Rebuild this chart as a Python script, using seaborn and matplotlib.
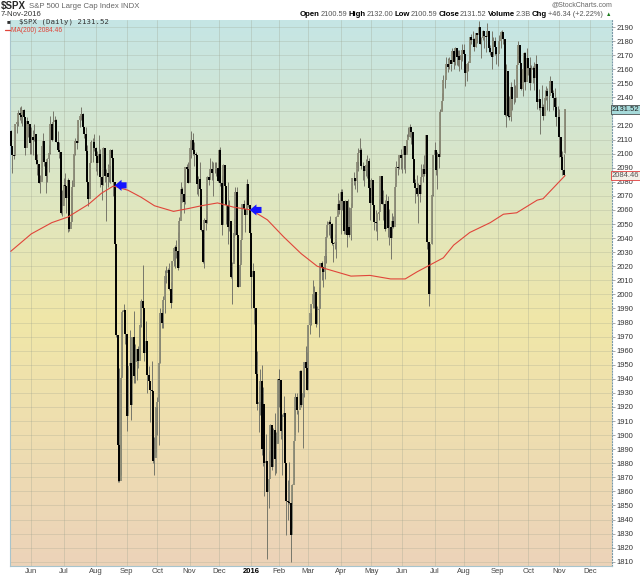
import numpy as np
import pandas as pd
import matplotlib
matplotlib.use('Agg')
import matplotlib.pyplot as plt
import seaborn as sns

# $SPX daily, 11-May-2015 .. 7-Nov-2016 (one value per trading day)
close = [
    # May 2015
    2105.33, 2099.12, 2098.48, 2121.10, 2122.73, 2129.20, 2127.83, 2125.85, 2130.82, 2126.06,
    2104.20, 2123.48, 2120.79, 2107.39,
    # Jun 2015
    2111.73, 2109.60, 2114.07, 2095.84, 2092.83, 2079.28, 2080.15, 2105.20, 2108.86, 2094.11,
    2084.43, 2096.29, 2100.44, 2121.24, 2109.99, 2122.85, 2124.20, 2108.58, 2102.31, 2101.49,
    2057.64, 2063.11,
    # Jul 2015
    2077.42, 2076.78, 2068.76, 2081.34, 2046.68, 2051.31, 2076.62, 2099.60, 2108.95, 2107.40,
    2124.29, 2126.64, 2128.28, 2119.21, 2114.15, 2102.15, 2079.65, 2067.64, 2093.25, 2108.57,
    2108.63, 2103.84,
    # Aug 2015
    2098.04, 2093.32, 2099.84, 2083.56, 2077.57, 2104.18, 2084.07, 2086.05, 2083.39, 2091.54,
    2102.44, 2096.92, 2079.61, 2035.73, 1970.89, 1893.21, 1867.61, 1940.51, 1987.66, 1988.87,
    1972.18,
    # Sep 2015
    1913.85, 1948.86, 1951.13, 1921.22, 1969.41, 1942.04, 1952.29, 1961.05, 1953.03, 1978.09,
    1995.31, 1990.20, 1958.03, 1966.97, 1942.74, 1938.76, 1932.24, 1931.34, 1881.77, 1884.09,
    1920.03,
    # Oct 2015
    1923.82, 1951.36, 1987.05, 1979.92, 1995.83, 2013.43, 2014.89, 2017.46, 2003.69, 1994.24,
    2023.86, 2033.11, 2033.66, 2030.77, 2018.94, 2052.51, 2075.15, 2071.18, 2065.89, 2090.35,
    2089.41, 2079.36,
    # Nov 2015
    2104.05, 2109.79, 2102.31, 2099.93, 2099.20, 2078.58, 2081.72, 2075.00, 2045.97, 2023.04,
    2053.19, 2050.44, 2083.58, 2081.24, 2089.17, 2086.59, 2089.14, 2088.87, 2090.11, 2080.41,
    # Dec 2015
    2102.63, 2079.51, 2049.62, 2091.69, 2077.07, 2063.59, 2047.62, 2052.23, 2012.37, 2021.94,
    2043.41, 2073.07, 2041.89, 2005.55, 2021.15, 2038.97, 2064.29, 2060.99, 2056.50, 2078.36,
    2063.36, 2043.94,
    # Jan 2016
    2012.66, 2016.71, 1990.26, 1943.09, 1922.03, 1923.67, 1938.68, 1890.28, 1921.84, 1880.33,
    1881.33, 1859.33, 1868.99, 1906.90, 1877.08, 1903.63, 1882.95, 1893.36, 1940.24,
    # Feb 2016
    1939.38, 1903.03, 1912.53, 1915.45, 1880.05, 1853.44, 1852.21, 1851.86, 1829.08, 1864.78,
    1895.58, 1926.82, 1917.83, 1917.78, 1945.50, 1921.27, 1929.80, 1951.70, 1948.05, 1932.23,
    # Mar 2016
    1978.35, 1986.45, 1993.40, 1999.99, 2001.76, 1979.26, 1989.26, 1989.57, 2022.19, 2019.64,
    2015.93, 2027.22, 2040.59, 2049.58, 2051.60, 2049.80, 2036.71, 2035.94, 2037.05, 2055.01,
    2063.95, 2059.74,
    # Apr 2016
    2072.78, 2066.13, 2045.17, 2066.66, 2041.91, 2047.60, 2041.99, 2061.72, 2082.42, 2082.78,
    2080.73, 2094.34, 2100.80, 2102.40, 2091.48, 2091.58, 2087.79, 2091.70, 2095.15, 2075.81,
    2065.30,
    # May 2016
    2081.43, 2063.37, 2051.12, 2050.63, 2057.14, 2058.69, 2084.39, 2064.46, 2064.11, 2046.61,
    2066.66, 2047.21, 2047.63, 2040.04, 2052.32, 2048.04, 2076.06, 2090.54, 2090.10, 2099.06,
    2096.95,
    # Jun 2016
    2099.33, 2105.26, 2099.13, 2109.41, 2112.13, 2119.12, 2115.48, 2096.07, 2079.06, 2075.32,
    2071.50, 2077.99, 2071.22, 2083.25, 2088.90, 2085.45, 2113.32, 2037.41, 2000.54, 2036.09,
    2070.77, 2098.86,
    # Jul 2016
    2102.95, 2088.55, 2099.73, 2097.90, 2129.90, 2137.16, 2152.14, 2152.43, 2163.75, 2161.74,
    2166.89, 2163.78, 2173.02, 2165.17, 2175.03, 2168.48, 2169.18, 2166.58, 2170.06, 2173.60,
    # Aug 2016
    2170.84, 2157.03, 2163.79, 2164.25, 2182.87, 2180.89, 2181.74, 2175.49, 2185.79, 2184.05,
    2190.15, 2178.15, 2182.22, 2187.02, 2183.87, 2182.64, 2186.90, 2175.44, 2172.47, 2169.04,
    2180.38, 2176.12, 2170.95,
    # Sep 2016
    2170.86, 2179.98, 2186.48, 2186.16, 2181.30, 2127.81, 2159.04, 2127.02, 2125.77, 2147.26,
    2139.16, 2139.12, 2139.76, 2163.12, 2177.18, 2164.69, 2146.10, 2159.93, 2171.37, 2151.13,
    2168.27,
    # Oct 2016
    2161.20, 2150.49, 2159.73, 2160.77, 2153.74, 2163.66, 2136.73, 2139.18, 2132.55, 2132.98,
    2126.50, 2139.60, 2144.29, 2141.34, 2141.16, 2151.33, 2143.16, 2139.43, 2133.04, 2126.41,
    2126.15,
    # Nov 2016
    2111.72, 2097.94, 2088.66, 2085.18, 2131.52,
]

high = [
    2117, 2105, 2110, 2121, 2124, 2131, 2133, 2134, 2131, 2132, 2126, 2126, 2123, 2121,
    2119, 2117, 2121, 2112, 2100, 2093, 2085, 2109, 2115, 2107, 2094, 2097, 2106, 2127,
    2122, 2130, 2127, 2125, 2116, 2108, 2097, 2074,
    2083, 2086, 2074, 2083, 2079, 2074, 2081, 2100, 2111, 2114, 2124, 2127, 2133, 2129,
    2118, 2119, 2106, 2079, 2095, 2110, 2111, 2114,
    2105, 2102, 2113, 2103, 2082, 2105, 2102, 2089, 2093, 2092, 2103, 2103, 2096, 2076,
    2034, 1965, 1948, 1943, 1989, 1993, 1986,
    1950, 1948, 1975, 1947, 1970, 1988, 1965, 1961, 1963, 1983, 1997, 2021, 1989, 1981,
    1953, 1949, 1937, 1953, 1927, 1899, 1920,
    1927, 1952, 1990, 1989, 1999, 2017, 2020, 2019, 2022, 2009, 2024, 2033, 2035, 2039,
    2044, 2055, 2080, 2076, 2070, 2090, 2093, 2094,
    2105, 2116, 2115, 2108, 2101, 2094, 2084, 2094, 2072, 2044, 2054, 2067, 2084, 2087,
    2097, 2095, 2094, 2094, 2094, 2094,
    2103, 2105, 2085, 2093, 2090, 2071, 2080, 2067, 2050, 2023, 2054, 2076, 2076, 2041,
    2022, 2040, 2064, 2067, 2058, 2082, 2078, 2062,
    2038, 2022, 2011, 1986, 1960, 1935, 1947, 1950, 1934, 1909, 1901, 1876, 1889, 1908,
    1906, 1905, 1916, 1902, 1940,
    1947, 1939, 1915, 1928, 1916, 1877, 1868, 1881, 1851, 1865, 1896, 1930, 1930, 1918,
    1946, 1946, 1932, 1952, 1963, 1959,
    1978, 1987, 1993, 2010, 2006, 1999, 1992, 2005, 2022, 2024, 2018, 2032, 2046, 2052,
    2053, 2056, 2051, 2036, 2043, 2056, 2072, 2067,
    2075, 2075, 2061, 2067, 2062, 2068, 2062, 2065, 2083, 2087, 2083, 2095, 2104, 2111,
    2104, 2094, 2089, 2096, 2099, 2097, 2075,
    2083, 2077, 2060, 2060, 2058, 2068, 2084, 2083, 2074, 2067, 2071, 2070, 2061, 2044,
    2058, 2056, 2079, 2095, 2093, 2099, 2103,
    2100, 2105, 2104, 2114, 2119, 2121, 2117, 2109, 2096, 2082, 2085, 2079, 2082, 2093,
    2093, 2099, 2113, 2113, 2031, 2036, 2071, 2099,
    2108, 2101, 2101, 2110, 2132, 2143, 2156, 2156, 2169, 2168, 2169, 2164, 2175, 2175,
    2176, 2174, 2174, 2174, 2171, 2178,
    2178, 2168, 2164, 2166, 2183, 2185, 2187, 2182, 2186, 2186, 2194, 2187, 2183, 2188,
    2185, 2184, 2193, 2186, 2177, 2187, 2183, 2183, 2176,
    2174, 2184, 2187, 2188, 2185, 2179, 2164, 2150, 2141, 2151, 2147, 2153, 2149, 2163,
    2180, 2173, 2158, 2161, 2172, 2172, 2175,
    2168, 2169, 2163, 2162, 2165, 2170, 2162, 2146, 2138, 2149, 2135, 2145, 2148, 2147,
    2142, 2155, 2151, 2145, 2147, 2140, 2134,
    2132, 2112, 2102, 2100, 2132,
]

low = [
    2104, 2086, 2096, 2100, 2115, 2120, 2124, 2122, 2120, 2126, 2099, 2105, 2112, 2100,
    2100, 2099, 2109, 2093, 2085, 2079, 2072, 2081, 2106, 2091, 2072, 2080, 2087, 2100,
    2109, 2111, 2119, 2108, 2102, 2097, 2057, 2056,
    2067, 2070, 2058, 2044, 2045, 2049, 2052, 2077, 2099, 2103, 2108, 2119, 2124, 2116,
    2111, 2099, 2077, 2063, 2069, 2094, 2094, 2102,
    2088, 2085, 2095, 2076, 2067, 2078, 2080, 2052, 2076, 2080, 2079, 2094, 2070, 2035,
    1970, 1867, 1867, 1872, 1942, 1975, 1965,
    1903, 1916, 1944, 1911, 1937, 1937, 1937, 1939, 1948, 1954, 1977, 1986, 1953, 1961,
    1930, 1933, 1909, 1926, 1880, 1872, 1888,
    1900, 1893, 1951, 1976, 1976, 1987, 2008, 2011, 2003, 1990, 1996, 2020, 2019, 2026,
    2017, 2022, 2058, 2066, 2058, 2064, 2082, 2079,
    2080, 2097, 2099, 2091, 2084, 2071, 2070, 2074, 2045, 2022, 2019, 2046, 2051, 2078,
    2083, 2081, 2070, 2086, 2084, 2080,
    2082, 2077, 2042, 2051, 2067, 2050, 2036, 2045, 2012, 1993, 2024, 2042, 2041, 2005,
    2006, 2023, 2042, 2058, 2044, 2061, 2062, 2043,
    1990, 2005, 1979, 1938, 1918, 1902, 1914, 1886, 1878, 1857, 1864, 1812, 1848, 1878,
    1875, 1878, 1872, 1873, 1895,
    1920, 1897, 1872, 1900, 1872, 1829, 1840, 1851, 1810, 1834, 1868, 1900, 1915, 1902,
    1924, 1920, 1891, 1927, 1946, 1932,
    1937, 1972, 1978, 1990, 1990, 1977, 1979, 1970, 1990, 2010, 2005, 2011, 2022, 2041,
    2042, 2040, 2035, 2023, 2032, 2026, 2057, 2057,
    2043, 2060, 2043, 2043, 2034, 2043, 2041, 2039, 2063, 2078, 2075, 2073, 2088, 2094,
    2089, 2081, 2077, 2084, 2083, 2071, 2053,
    2066, 2054, 2046, 2045, 2039, 2053, 2059, 2064, 2053, 2045, 2047, 2041, 2035, 2025,
    2042, 2047, 2050, 2079, 2085, 2089, 2089,
    2086, 2089, 2086, 2101, 2111, 2112, 2107, 2089, 2079, 2065, 2070, 2051, 2066, 2082,
    2080, 2084, 2093, 2032, 1992, 2004, 2036, 2070,
    2097, 2085, 2075, 2090, 2100, 2131, 2139, 2147, 2157, 2158, 2160, 2159, 2165, 2160,
    2163, 2163, 2162, 2159, 2160, 2166,
    2162, 2148, 2152, 2159, 2169, 2178, 2178, 2173, 2176, 2179, 2186, 2178, 2168, 2181,
    2175, 2172, 2184, 2172, 2170, 2160, 2170, 2170, 2164,
    2162, 2175, 2175, 2182, 2178, 2127, 2119, 2126, 2124, 2123, 2131, 2135, 2137, 2140,
    2167, 2163, 2145, 2141, 2151, 2145, 2156,
    2156, 2145, 2152, 2150, 2145, 2157, 2132, 2131, 2114, 2131, 2124, 2136, 2138, 2131,
    2130, 2146, 2141, 2131, 2132, 2120, 2125,
    2098, 2097, 2085, 2084, 2100.59,
]

first_open = 2116.10   # close of 8-May-2015
last_open = 2100.59    # open of 7-Nov-2016 (from header)

holidays = ['2015-05-25', '2015-07-03', '2015-09-07', '2015-11-26', '2015-12-25',
            '2016-01-01', '2016-01-18', '2016-02-15', '2016-03-25', '2016-05-30',
            '2016-07-04', '2016-09-05', '2016-11-24']

# MA(200) at some trading-day positions
ma_day = [0, 14, 28, 39, 53, 62, 70, 80, 89, 98, 111, 121, 130, 141, 152, 164, 175, 186,
          198, 209, 232, 245, 259, 269, 277, 286, 295, 302, 313, 327, 336, 345, 359, 363, 378]
ma_val = [2030.6, 2043, 2051, 2055, 2064, 2072, 2077, 2074, 2069, 2063, 2059, 2061, 2063,
          2065, 2062, 2060, 2053, 2041, 2029, 2020, 2013, 2013.5, 2011, 2011, 2016, 2021,
          2026, 2035, 2044, 2051, 2057, 2058, 2067, 2068, 2084.46]

arrow_day = [71, 163]
arrow_price = [2077.5, 2060]

month_names = ['Jun', 'Jul', 'Aug', 'Sep', 'Oct', 'Nov', 'Dec', '2016', 'Feb', 'Mar', 'Apr',
               'May', 'Jun', 'Jul', 'Aug', 'Sep', 'Oct', 'Nov', 'Dec']

header = [('Open', True), ('2100.59', False), ('High', True), ('2132.00', False),
          ('Low', True), ('2100.59', False), ('Close', True), ('2131.52', False),
          ('Volume', True), ('2.3B', False), ('Chg', True), ('+46.34 (+2.22%)', False)]

# trading calendar
bday = pd.offsets.CustomBusinessDay(holidays=holidays)
cal = pd.date_range('2015-05-11', '2016-12-31', freq=bday)
n = len(close)
df = pd.DataFrame({'day': np.arange(n), 'date': cal[:n], 'close': close, 'high': high, 'low': low})
df['open'] = [first_open] + close[:-1]
df.loc[n - 1, 'open'] = last_open
ma = pd.DataFrame({'day': ma_day, 'ma': ma_val})

month_starts = pd.date_range('2015-06-01', '2016-12-01', freq='MS')
tick_pos = [int(np.searchsorted(cal, m)) for m in month_starts]

sns.set_theme(style='white')
plt.rcParams['font.family'] = ['Liberation Sans', 'DejaVu Sans']

W, H = 640, 576
fig = plt.figure(figsize=(W / 100, H / 100), dpi=100)
fig.patch.set_facecolor('white')
ax = fig.add_axes([10 / W, 10 / H, 602 / W, 546 / H])

x0, x1 = -0.5, 410
y0, y1 = 1807, 2195
ax.set_xlim(x0, x1)
ax.set_ylim(y0, y1)

# background gradient (teal -> yellow -> peach)
stops = np.array([[0.0, 197, 229, 229], [0.55, 240, 231, 168], [1.0, 236, 211, 185]])
t = np.linspace(0, 1, 256)
grad = np.stack([np.interp(t, stops[:, 0], stops[:, c]) for c in (1, 2, 3)], axis=1) / 255
ax.imshow(grad[:, None, :], extent=[x0, x1, y0, y1], aspect='auto', origin='upper', zorder=0)

# grid
for yv in range(1810, 2200, 10):
    ax.axhline(yv, color='#9aa08c', alpha=0.3, lw=0.6, zorder=1)
for xp in tick_pos:
    ax.axvline(xp, color='#9aa08c', alpha=0.35, lw=0.6, zorder=1)

# candles
up = df['close'] >= df['open']
ax.vlines(df['day'], df['low'], df['high'], color='#77776a', lw=0.7, zorder=2)
ax.vlines(df.loc[up, 'day'], df.loc[up, 'open'], df.loc[up, 'close'], color='#8a8a76', lw=1.3, zorder=3)
ax.vlines(df.loc[~up, 'day'], df.loc[~up, 'open'], df.loc[~up, 'close'], color='black', lw=1.4, zorder=3)

# MA(200)
sns.lineplot(data=ma, x='day', y='ma', ax=ax, color='#e0453a', lw=0.8, zorder=4)

# blue arrows pointing at the MA
for d, p in zip(arrow_day, arrow_price):
    ax.annotate('', xy=(d, p), xytext=(d + 8, p),
                arrowprops=dict(arrowstyle='simple,head_width=1.0,head_length=0.6,tail_width=0.55',
                                color='#1414ff', lw=0, mutation_scale=8, shrinkA=0, shrinkB=0),
                zorder=5)

# axes styling
ax.yaxis.tick_right()
yt = list(range(1810, 2200, 10))
ax.set_yticks(yt)
ax.set_yticklabels(['' if v == 2130 else str(v) for v in yt], fontsize=5.5, color='#333333')
ax.tick_params(axis='y', length=2, width=0.5, pad=1, color='#888888')
ax.set_xticks(tick_pos)
ax.set_xticklabels(month_names, fontsize=5.5, color='#444444')
ax.tick_params(axis='x', length=0, pad=1.5)
for lab in ax.get_xticklabels():
    if lab.get_text() == '2016':
        lab.set_fontweight('bold')
        lab.set_color('black')
ax.set_xlabel('')
ax.set_ylabel('')
ax.spines['top'].set_visible(False)
ax.spines['left'].set_color('#a8c4cc')
ax.spines['bottom'].set_color('#a8c4cc')
ax.spines['right'].set_color('#7a9aa8')
ax.spines['right'].set_linestyle(':')
for s in ['left', 'bottom', 'right']:
    ax.spines[s].set_linewidth(0.8)

# value tags on the right axis
ax.text(1.0, close[-1], '2131.52', transform=ax.get_yaxis_transform(), fontsize=5.5,
        va='center', ha='left', color='#222222', zorder=10, clip_on=False,
        bbox=dict(boxstyle='square,pad=0.15', fc='#a6dada', ec='#333333', lw=0.5))
ax.text(1.0, ma_val[-1], '2084.46', transform=ax.get_yaxis_transform(), fontsize=5.5,
        va='center', ha='left', color='#555555', zorder=10, clip_on=False,
        bbox=dict(boxstyle='square,pad=0.15', fc='#f4f0e8', ec='#e03c3c', lw=0.6))

# in-plot legend
fig.text(7 / W, 1 - 22 / H, '\u25a0', fontsize=4.5, color='#333333', va='center')
fig.text(19 / W, 1 - 22 / H, '$SPX (Daily) 2131.52', fontsize=5.3, color='#333333', va='center',
         family=['DejaVu Sans Mono'])
fig.add_artist(plt.Line2D([5 / W, 10 / W], [1 - 30 / H, 1 - 30 / H], color='#e0453a', lw=0.9))
fig.text(11 / W, 1 - 30 / H, 'MA(200) 2084.46', fontsize=4.8, color='#e0453a', va='center')

# header, pieces laid out one after another
fig.canvas.draw()
rend = fig.canvas.get_renderer()
t1 = fig.text(1 / W, 1 - 6 / H, '$SPX', fontsize=7, fontweight='bold', va='center')
w1 = t1.get_window_extent(renderer=rend).width
fig.text((w1 + 4) / W, 1 - 6 / H, 'S&P 500 Large Cap Index INDX', fontsize=5.6,
         color='#666666', va='center')
fig.text(1 / W, 1 - 15 / H, '7-Nov-2016', fontsize=5.6, color='#333333', va='center')
fig.text(612 / W, 1 - 5 / H, '@StockCharts.com', fontsize=5, color='#666666', va='center', ha='right')

pieces = []
for txt, bold in header:
    tt = fig.text(0, 1 - 14 / H, txt, fontsize=5.6 if bold else 5.3, va='center',
                  fontweight='bold' if bold else 'normal', color='black' if bold else '#555555')
    pieces.append((tt, tt.get_window_extent(renderer=rend).width))
start, end = 300, 603
total = sum(w for _, w in pieces)
gap = (end - start - total) / (len(pieces) - 1)
xp = start
for tt, w in pieces:
    tt.set_x(xp / W)
    xp += w + gap
fig.text(606 / W, 1 - 14 / H, '\u25b2', fontsize=4, color='#1a7a1a', va='center')

fig.savefig('out.png', dpi=100)
